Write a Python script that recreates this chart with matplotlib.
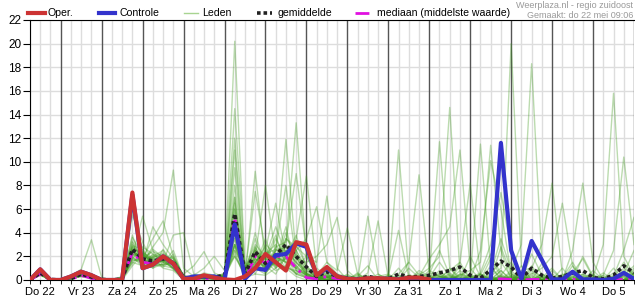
import numpy as np
import matplotlib.pyplot as plt
from matplotlib.lines import Line2D

plt.rcParams['font.family'] = ['Liberation Sans', 'DejaVu Sans']

# tijdstappen van 6 uur, uren vanaf do 22 00:00
hours = np.arange(6, 361, 6)
day_labels = ['Do 22', 'Vr 23', 'Za 24', 'Zo 25', 'Ma 26', 'Di 27', 'Wo 28',
              'Do 29', 'Vr 30', 'Za 31', 'Zo 1', 'Ma 2', 'Di 3', 'Wo 4', 'Do 5']

oper = [0, 0.9, 0, 0, 0.3, 0.7, 0.4, 0, 0, 0,
        7.4, 1.0, 1.3, 2.0, 1.4, 0.1, 0.1, 0.4, 0.2, 0.05,
        0, 0.3, 1.0, 2.2, 1.5, 0.8, 3.2, 3.0, 0.4, 1.1,
        0.3, 0.1, 0.05, 0.15, 0.15, 0.1, 0.05, 0.2, 0.2, 0.05]

controle = [0, 0.9, 0, 0, 0.3, 0.7, 0.4, 0, 0, 0,
            7.2, 1.0, 1.3, 2.0, 1.4, 0.1, 0.3, 0.3, 0.3, 0.0,
            4.7, 0.1, 1.0, 0.85, 2.1, 2.2, 3.1, 2.8, 0.4, 1.0,
            0.3, 0.1, 0.05, 0.1, 0.1, 0.1, 0.05, 0.15, 0.1, 0.0,
            0, 0, 0, 0, 0, 0, 11.6, 2.5, 0.1, 3.3,
            1.7, 0.05, 0.05, 0.7, 0.05, 0.05, 0, 0.1, 0.6, 0.1]

gemiddelde = [0, 0.6, 0.05, 0, 0.1, 0.5, 0.25, 0.05, 0, 0.1,
              2.6, 1.8, 1.6, 1.8, 1.5, 0.2, 0.2, 0.3, 0.25, 0.4,
              5.6, 0.5, 2.4, 1.4, 2.1, 3.0, 2.0, 1.1, 0.3, 0.7,
              0.3, 0.15, 0.1, 0.3, 0.15, 0.1, 0.5, 0.25, 0.3, 0.4,
              0.6, 0.8, 1.1, 0.4, 0.15, 0.85, 1.6, 1.1, 0.15, 1.0,
              0.4, 0.15, 0.3, 0.6, 0.8, 0.2, 0.1, 0.4, 1.2, 0.6]

mediaan = [0, 0.5, 0, 0, 0.05, 0.4, 0.15, 0, 0, 0.05,
           2.3, 1.5, 1.4, 1.9, 1.3, 0.05, 0.05, 0.1, 0.1, 0.1,
           5.3, 0.1, 2.0, 1.4, 2.0, 2.0, 1.0, 0.2, 0.1, 0.3,
           0.1, 0.05, 0, 0.05, 0, 0, 0.05, 0, 0.05, 0.05,
           0.05, 0.05, 0.05, 0, 0, 0.05, 0.1, 0.05, 0, 0.05,
           0.05, 0, 0, 0.05, 0.05, 0, 0, 0, 0.05, 0.05]

leden = [
    [0, 0.7, 0, 0, 0.2, 0.5, 0.3, 0, 0, 0.1, 2.8, 2.0, 1.6, 2.2, 1.5, 0.2, 0.1, 0.3, 0.2, 0.6,
     4.0, 0.3, 1.5, 0.8, 2.5, 8.0, 1.5, 0.5, 0.1, 0.4, 0.2, 0, 0, 0.3, 0, 0, 0.4, 0.1, 0, 0.8,
     0.3, 0, 1.2, 0.2, 0, 0.5, 1.5, 0.3, 0, 1.0, 0.2, 0, 0, 0.6, 1.8, 0.2, 0, 0.3, 2.5, 5.3],
    [0, 0.9, 0.1, 0, 0.1, 0.6, 0.2, 0, 0, 0.2, 5.9, 2.5, 1.0, 1.8, 1.2, 0.1, 0, 0.2, 0.1, 0.3,
     4.0, 1.0, 3.0, 2.0, 1.0, 3.5, 2.5, 0.6, 0.2, 0.5, 0.1, 0.2, 0, 0, 0.2, 0, 0, 1.5, 0.4, 0,
     0, 0.6, 0, 2.0, 0.3, 0, 0.8, 0, 0.2, 0, 1.4, 0, 0.5, 0, 0.3, 0, 0, 0.4, 0, 0.2],
    [0, 0.5, 0, 0, 0.3, 0.4, 0.2, 0, 0, 0, 2.0, 5.4, 2.5, 1.2, 1.0, 0, 0.2, 0.4, 0.3, 0.2,
     3.5, 0.2, 0.5, 2.2, 3.0, 1.5, 0.5, 1.2, 0.3, 0, 0, 0, 0.5, 0, 0, 0.2, 0, 0, 0.6, 0.2,
     1.5, 0.3, 0, 0, 0.4, 2.2, 0.5, 0, 0, 0.6, 0, 0.3, 0, 0, 0, 0.8, 0, 0, 1.0, 0.4],
    [0, 0.6, 0, 0, 0.2, 0.7, 0.4, 0.1, 0, 0.1, 3.0, 1.8, 3.5, 5.0, 2.0, 0.3, 0.2, 0.1, 0.4, 0.3,
     3.0, 0.6, 1.0, 0.5, 1.8, 4.5, 0.8, 0.2, 0, 0.2, 0.5, 0.3, 0, 0, 0, 0, 1.0, 0, 0, 0,
     0.2, 0, 0.4, 0, 0, 0, 2.8, 0.5, 0, 1.2, 0, 0, 0.2, 1.5, 0, 0, 0.3, 0, 0.6, 0],
    [0, 0.8, 0, 0, 0.4, 0.9, 3.4, 0.2, 0, 0.3, 1.5, 1.2, 2.0, 1.0, 0.8, 0, 0, 0.5, 0.2, 0.1,
     2.5, 0, 2.8, 1.2, 0.5, 2.0, 3.8, 1.0, 0.4, 1.5, 0.8, 4.4, 0.5, 0, 0.2, 0, 0, 0.3, 0, 0.1,
     0, 1.0, 0.2, 0, 0, 0, 0.4, 1.5, 0, 0, 0.5, 0, 0, 0.2, 0, 0, 0.2, 0, 0, 0.8],
    [0, 0.4, 0, 0, 0.1, 0.3, 0.1, 0, 0, 0.2, 2.2, 1.5, 2.8, 4.0, 9.3, 1.0, 0.3, 0.2, 0, 0.4,
     6.0, 0.8, 1.2, 3.0, 2.2, 1.0, 0.3, 0, 0.2, 0, 0, 0, 0.3, 1.2, 0, 0.4, 0, 0, 0.2, 0.5,
     2.5, 0.4, 0, 0, 0, 0.3, 0, 0.6, 0, 0, 0.2, 0, 1.0, 0, 0, 0.5, 0, 0.2, 0, 0],
    [0, 0.7, 0, 0, 0.2, 0.5, 0.2, 0, 0, 0.1, 5.5, 3.2, 1.5, 1.8, 1.0, 0.2, 0, 0, 0.2, 0.3,
     7.0, 0.4, 1.8, 1.0, 1.5, 2.8, 2.0, 0.3, 0, 0.5, 0, 0.2, 0, 5.4, 0.5, 0, 0, 0.2, 0, 0.3,
     0, 0, 0.5, 0.3, 0, 1.8, 0.3, 0, 0.6, 0, 0, 0.5, 0, 0, 2.0, 0.3, 0, 0, 0.4, 1.2],
    [0, 0.6, 0, 0, 0.1, 0.4, 0.3, 0, 0, 0, 2.5, 1.4, 4.5, 3.0, 1.8, 0.4, 0.1, 0.2, 0.1, 0.2,
     5.0, 0.2, 2.2, 1.5, 3.5, 1.8, 1.0, 2.0, 0.3, 0.2, 0.2, 0, 0, 0, 0.3, 0.5, 0, 0.4, 0, 0,
     0.5, 0, 0.8, 0, 0.2, 0, 0, 0.3, 0, 2.2, 0.4, 0, 0, 0.3, 0, 0, 0.6, 0, 0.8, 0.2],
    [0, 0.5, 0, 0, 0.3, 0.6, 0.2, 0, 0, 0.2, 1.8, 2.8, 2.2, 1.5, 3.8, 4.0, 0.5, 0.3, 0.2, 0,
     3.0, 1.5, 0.5, 0.4, 1.0, 2.0, 1.2, 0.4, 0.5, 0.6, 0, 0.3, 0, 0.6, 5.0, 0.2, 0, 0, 0.3, 0,
     0, 0.2, 0, 0.4, 0, 0.6, 3.5, 0.8, 0, 0, 0.3, 0, 0, 1.2, 0, 0, 0, 0, 0.3, 0.5],
    [0, 0.8, 0, 0, 0.3, 0.8, 0.5, 0.1, 0, 0, 3.2, 1.0, 1.2, 2.0, 1.5, 0.5, 1.2, 2.4, 0.6, 0.2,
     4.5, 0.4, 1.5, 2.8, 1.2, 3.0, 1.8, 0.6, 0, 0.3, 0.2, 0, 0.4, 0, 0, 0.3, 11.0, 0.5, 0, 0.2,
     0, 0, 0.3, 0, 0.5, 0, 0.2, 0, 0, 0.4, 0, 0, 0, 0, 0.5, 0, 0, 0.2, 1.5, 0.3],
    [0, 0.6, 0.1, 0, 0.2, 0.5, 0.1, 0, 0, 0.1, 2.6, 1.6, 1.0, 1.4, 2.5, 0.2, 0.4, 1.0, 2.0, 0.8,
     2.0, 0.6, 3.5, 0.8, 2.0, 1.5, 2.5, 1.0, 0.2, 0, 0, 0.5, 0, 0, 0, 0.3, 4.2, 0.2, 0, 0,
     0.8, 0, 0, 0.3, 0, 1.2, 0, 0.4, 0, 0, 0.2, 0, 0.4, 0, 0, 0, 0.2, 0, 0, 0.6],
    [0, 0.7, 0, 0, 0.2, 0.6, 0.2, 0, 0, 0.2, 2.4, 2.0, 1.8, 1.5, 1.0, 0, 0.2, 0.1, 0.3, 0.5,
     20.2, 0.8, 2.5, 1.2, 1.5, 4.0, 1.2, 0.3, 0.2, 0.3, 0, 0, 0, 0.2, 0, 0, 0, 0, 0.8, 0.3,
     0.4, 0, 1.5, 0, 0, 0, 0.2, 0, 0.5, 0, 0, 0, 0, 0, 0.3, 0, 0, 0, 0, 0],
    [0, 0.9, 0, 0, 0.1, 0.4, 0.3, 0, 0, 0, 1.2, 2.2, 1.5, 2.0, 1.8, 0.2, 0, 0.3, 0.2, 0.4,
     14.5, 1.2, 1.5, 2.5, 6.5, 2.0, 0.5, 0.2, 0, 0, 0.3, 0, 0, 0, 0, 0, 0, 1.0, 0.2, 0,
     0, 0.5, 0, 0, 0, 0, 0, 0, 0.3, 0, 0, 0, 0, 0.4, 0, 0, 0, 0, 0.2, 0],
    [0, 0.5, 0, 0, 0.2, 0.5, 0.4, 0, 0, 0.1, 3.8, 1.2, 2.0, 2.5, 1.2, 0.1, 0.3, 0.2, 0, 0.3,
     12.0, 0.5, 4.0, 1.0, 2.8, 3.2, 9.0, 2.5, 0.4, 0.6, 0.3, 0.2, 0, 0, 0.5, 0, 0, 0.3, 0, 0,
     0, 0, 0, 0.5, 0, 0, 0.8, 0, 1.2, 0, 0, 0, 0, 0, 0, 0.4, 0, 0, 0, 0.3],
    [0, 0.6, 0, 0, 0.1, 0.3, 0.2, 0, 0, 0.1, 2.9, 2.6, 1.4, 1.6, 2.0, 0.3, 0.1, 0.2, 0.4, 0.2,
     11.0, 0.3, 2.0, 1.8, 1.2, 2.5, 1.5, 0.8, 0.2, 0.4, 0.2, 0, 0.2, 0, 0, 0, 0.5, 1.5, 8.9, 0.6,
     0.3, 0.2, 0, 0, 0, 0.2, 0, 0, 0, 0, 0, 0.2, 0, 0, 0, 0, 0, 0.6, 0, 0],
    [0, 0.8, 0, 0, 0.3, 0.7, 0.3, 0, 0, 0, 1.6, 1.9, 2.4, 2.0, 1.6, 0.2, 0.1, 0.4, 0.2, 0.4,
     9.5, 0.6, 1.0, 2.0, 4.5, 2.2, 0.8, 0.4, 0, 0.2, 0, 0, 0, 0.2, 0, 0, 0, 0.2, 0, 0.3,
     11.7, 1.0, 0, 0, 0.5, 0, 0, 0, 0, 0.8, 0, 0, 0, 0, 0, 0, 0, 0, 0.3, 0],
    [0, 0.4, 0, 0, 0.2, 0.4, 0.1, 0, 0, 0.2, 3.3, 1.7, 1.2, 1.3, 1.4, 0, 0.2, 0.6, 0.4, 0.3,
     8.0, 0.9, 2.6, 0.6, 1.5, 1.8, 3.0, 1.2, 0.2, 0.8, 0, 0.4, 0, 0, 0, 0.2, 0, 0, 0.4, 1.0,
     2.0, 14.6, 0.6, 0, 0, 0, 0.3, 0, 0, 0, 0, 0.8, 0, 0, 0, 0.2, 0, 0, 0, 1.0],
    [0, 0.7, 0, 0, 0.1, 0.5, 0.2, 0, 0, 0, 2.1, 2.3, 1.8, 1.7, 0.9, 0.2, 0, 0.2, 0.1, 0.2,
     7.0, 0.2, 9.2, 1.5, 0.8, 1.2, 0.5, 0.2, 0.3, 0, 0.2, 0, 0, 0, 0, 0.4, 0, 0, 0, 0.2,
     0, 0.4, 0, 0, 11.5, 1.0, 0.2, 0, 0, 0, 0.5, 0, 0, 0, 0, 0, 0.4, 0, 0, 0],
    [0, 0.6, 0, 0, 0.2, 0.6, 0.3, 0, 0, 0.1, 2.7, 1.3, 1.1, 2.6, 1.3, 0.1, 0.3, 0.1, 0.2, 0.5,
     6.5, 0.4, 1.8, 1.5, 2.0, 2.4, 1.5, 0.5, 0.1, 0, 0, 0, 0.6, 0, 0, 0, 0, 0, 0.3, 1.8,
     3.0, 4.5, 11.0, 1.0, 0, 0, 0, 0.2, 0, 0, 0, 0, 0.3, 0, 0, 0, 0, 0, 0.5, 2.5],
    [0, 0.5, 0, 0, 0.3, 0.5, 0.2, 0, 0, 0, 1.9, 1.5, 2.6, 1.9, 1.6, 0.3, 0.1, 0.3, 0.2, 0.1,
     6.0, 0.6, 1.2, 3.5, 1.0, 1.8, 2.2, 0.8, 0.3, 0.2, 0, 0, 0, 0.4, 0, 0, 0.3, 0, 0, 0.4,
     0.2, 0.8, 1.5, 8.2, 0.4, 0, 0, 0, 0, 0.2, 0, 0, 0, 0.3, 0, 0, 0, 1.0, 0, 0],
    [0, 0.8, 0, 0, 0.2, 0.4, 0.3, 0, 0, 0.1, 2.3, 1.9, 1.3, 1.1, 1.7, 0.1, 0, 0.2, 0.3, 0.2,
     5.0, 0.3, 2.8, 1.0, 2.5, 2.8, 1.0, 0.4, 0, 0, 0.2, 0, 0, 0, 0, 0, 0, 0, 0, 0.2,
     0, 0, 0.4, 0.8, 1.5, 11.4, 2.5, 0, 0.3, 0, 0, 0, 0, 0, 0.4, 0, 0, 0, 0, 0.3],
    [0, 0.6, 0, 0, 0.2, 0.5, 0.2, 0, 0, 0.2, 3.6, 2.1, 1.7, 1.5, 1.1, 0.2, 0.2, 0.1, 0.2, 0.4,
     4.5, 1.2, 1.3, 1.8, 3.8, 1.2, 0.6, 0.3, 0.2, 0.3, 0, 0.2, 0, 0, 0.3, 0, 0, 0, 0.2, 0,
     0, 0.3, 0, 0, 2.5, 10.1, 6.0, 0.5, 0, 0, 0.2, 0, 0, 0, 0, 0, 0, 0, 0.4, 0],
    [0, 0.7, 0, 0, 0.1, 0.6, 0.4, 0, 0, 0, 2.0, 1.1, 1.9, 2.3, 1.4, 0.2, 0, 0.2, 0.3, 0.3,
     3.5, 0.5, 7.5, 2.5, 1.6, 1.0, 0.8, 0.5, 0, 0.2, 0, 0, 0.2, 0, 0, 0, 0.2, 0, 0, 0,
     0.3, 0, 0, 0.2, 0.6, 3.0, 7.4, 2.5, 0, 0.3, 0, 0, 0, 0.2, 0, 0, 0, 0, 0, 0.5],
    [0, 0.5, 0, 0, 0.2, 0.3, 0.2, 0, 0, 0.1, 1.7, 1.6, 1.5, 1.2, 2.2, 0.1, 0.1, 0.2, 0.2, 0.2,
     4.0, 0.4, 2.0, 8.0, 2.0, 1.5, 1.0, 0.6, 0.1, 0.3, 0.4, 0, 0, 0, 0, 0, 0, 0.2, 0, 0,
     0, 0, 0.5, 0, 0, 0.3, 1.0, 20.0, 1.2, 0, 0, 0, 0, 0, 0.2, 0, 0, 0, 0, 0],
    [0, 0.6, 0, 0, 0.1, 0.5, 0.3, 0, 0, 0, 2.5, 1.3, 2.2, 1.9, 1.3, 0, 0.2, 0.3, 0.2, 0.3,
     3.0, 0.2, 1.4, 1.2, 2.5, 11.9, 2.0, 0.5, 0.2, 0.1, 0, 0, 0, 0.2, 0, 0, 0, 0, 0, 0.3,
     0, 0, 0, 0, 0.5, 0.2, 0, 0.8, 3.0, 18.3, 1.5, 0, 0, 0, 0, 0, 0, 0, 0, 0.2],
    [0, 0.7, 0, 0, 0.2, 0.7, 0.3, 0, 0, 0.1, 1.4, 2.4, 1.6, 1.6, 1.9, 0.3, 0.1, 0.2, 0.1, 0.4,
     3.0, 0.7, 2.5, 0.6, 1.8, 3.0, 13.3, 2.0, 0.5, 0.2, 0, 0, 0, 0, 0, 0.2, 0, 0, 0, 0,
     0.6, 0, 0, 0, 0, 0, 0.4, 0, 0.8, 1.0, 3.0, 8.2, 0.5, 0, 0, 0, 0, 0, 0, 0],
    [0, 0.5, 0, 0, 0.3, 0.5, 0.1, 0, 0, 0, 2.2, 1.8, 1.3, 1.7, 1.0, 0.2, 0.2, 0.1, 0.3, 0.2,
     2.5, 1.0, 1.6, 2.2, 2.6, 2.0, 3.5, 8.8, 1.0, 0.3, 0.2, 0, 0, 0, 0, 0, 0, 0.4, 0, 0,
     0, 0, 0, 0.3, 0, 0, 0, 0.2, 0, 0.5, 1.0, 2.0, 6.5, 1.2, 0, 0, 0, 0.3, 0, 0],
    [0, 0.8, 0, 0, 0.2, 0.4, 0.2, 0, 0, 0, 2.8, 2.2, 1.4, 1.3, 1.5, 0.2, 0.1, 0.2, 0.1, 0.3,
     2.0, 0.4, 1.2, 1.8, 1.5, 3.5, 2.8, 2.0, 1.5, 7.1, 1.0, 0, 0, 0, 0, 0, 0, 0, 0.3, 0,
     0, 0, 0.2, 0, 0, 0, 0.3, 0, 0, 0, 0.2, 1.0, 0, 2.5, 8.2, 1.5, 0, 0, 0, 0],
    [0, 0.6, 0, 0, 0.1, 0.4, 0.3, 0, 0, 0.1, 2.6, 1.5, 2.1, 1.6, 1.2, 0.1, 0.2, 0.2, 0.1, 0.2,
     2.8, 0.6, 1.8, 1.4, 2.2, 2.5, 1.8, 1.5, 2.0, 3.0, 5.3, 0.8, 0, 0, 0, 0, 0, 0, 0, 0.2,
     0, 0, 0, 0, 0, 0, 0, 0.3, 0, 0, 0, 0, 0.3, 0, 0.5, 0.2, 3.0, 15.8, 2.0, 0.4],
    [0, 0.7, 0, 0, 0.2, 0.6, 0.2, 0, 0, 0, 1.8, 1.4, 1.9, 2.1, 1.4, 0.3, 0, 0.2, 0.2, 0.2,
     2.2, 0.3, 2.2, 0.9, 1.5, 2.0, 2.5, 3.5, 6.2, 1.5, 0.5, 0, 0, 0, 0, 0, 0, 0, 0, 0,
     0.3, 0, 0, 0, 0, 0, 0, 0, 0.4, 0, 0, 0, 0, 0.6, 0, 0, 0.4, 2.5, 10.4, 3.0],
]

fig = plt.figure(figsize=(6.35, 3.0), dpi=100)
ax = fig.add_axes([30 / 635, 20 / 300, 604 / 635, 260 / 300])

c_leden = '#3f9a1c'
for lid in leden:
    ax.plot(hours, lid, color=c_leden, lw=1, alpha=0.35, zorder=2)
ax.plot(hours, mediaan, color='#e010e0', lw=2, ls=(0, (5, 2, 1, 2)), zorder=3)
ax.plot(hours, gemiddelde, color='#222222', lw=2.6, ls=(0, (1, 0.8)), zorder=4)
ax.plot(hours, controle, color='#3333cc', lw=3, zorder=5)
ax.plot(hours[:len(oper)], oper, color='#cc3333', lw=3, zorder=6)

ax.set_xlim(6, 360)
ax.set_ylim(0, 22)
ax.set_yticks(range(0, 23, 2))

# dun raster elke 6 uur, donkere lijn om middernacht
for h in range(6, 361, 6):
    if h % 24 == 0:
        ax.axvline(h, color='#555555', lw=1, zorder=1)
    else:
        ax.axvline(h, color='#dddddd', lw=1, zorder=0)
for y in range(2, 23, 2):
    ax.axhline(y, color='#dddddd', lw=1, zorder=0)

noons = [12 + 24 * i for i in range(len(day_labels))]
ax.set_xticks(noons)
ax.set_xticklabels(day_labels)
ax.set_xticks(range(6, 361, 6), minor=True)
ax.tick_params(axis='x', which='major', length=3, pad=2, labelsize=8)
ax.tick_params(axis='x', which='minor', length=3)
ax.tick_params(axis='y', length=5, pad=1, labelsize=8.5)
ax.spines['right'].set_visible(False)

# legenda bovenaan, handmatig geplaatst
def fx(px):
    return px / 635

ly = 1 - 13 / 300
items = [
    (28, 45, 48, 'Oper.', dict(color='#cc3333', lw=3)),
    (99, 115, 119, 'Controle', dict(color='#3333cc', lw=3)),
    (184, 198, 202, 'Leden', dict(color='#a8d490', lw=1)),
    (257, 272, 277, 'gemiddelde', dict(color='#222222', lw=2.6, ls=(0, (1, 0.8)))),
    (355, 373, 377, 'mediaan (middelste waarde)', dict(color='#e010e0', lw=2, ls=(0, (5, 2, 1, 2)))),
]
for x0, x1, xt, txt, kw in items:
    fig.add_artist(Line2D([fx(x0), fx(x1)], [ly, ly], transform=fig.transFigure, **kw))
    fig.text(fx(xt), ly, txt, fontsize=7.6, va='center', ha='left')

fig.text(fx(633), 1 - 5 / 300, 'Weerplaza.nl - regio zuidoost', fontsize=6.5,
         color='#999999', ha='right', va='center')
fig.text(fx(633), 1 - 15 / 300, 'Gemaakt: do 22 mei 09:06', fontsize=6.5,
         color='#999999', ha='right', va='center')

fig.savefig('out.png', dpi=100)
